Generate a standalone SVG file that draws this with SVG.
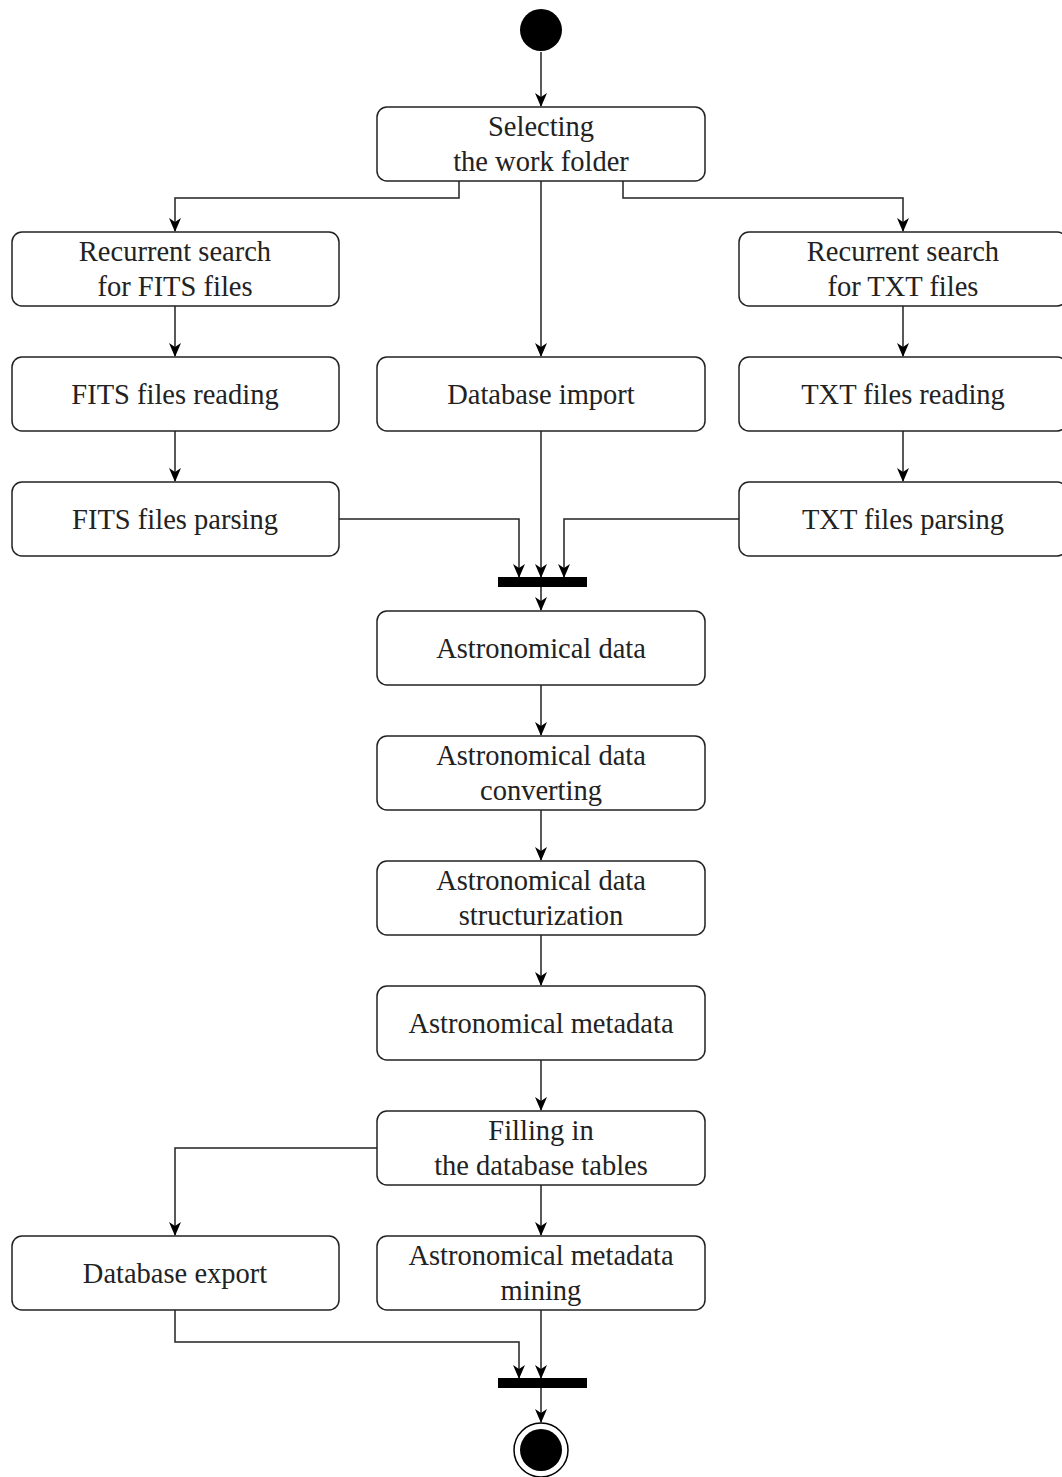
<svg xmlns="http://www.w3.org/2000/svg" width="1062" height="1477" viewBox="0 0 1062 1477">
<style>
.box{fill:#fff;stroke:#222;stroke-width:1.5}
text{font-family:"Liberation Serif","DejaVu Serif",serif;font-size:28.5px;fill:#222;text-anchor:middle}
.edge{fill:none;stroke:#222;stroke-width:1.5;marker-end:url(#arrv)}
.bar{fill:#000}
</style>
<defs>
<marker id="arrv" viewBox="0 0 14 12" refX="13" refY="6" markerWidth="14" markerHeight="12" markerUnits="userSpaceOnUse" orient="auto">
<path d="M0,0 L14,6 L0,12 L4,6 Z" fill="#000"/>
</marker>
</defs>
<rect width="1062" height="1477" fill="#fff"/>
<g id="connectors">
<path class="edge" d="M541,52 V106"/>
<path class="edge" d="M459,181 V198 H175 V231"/>
<path class="edge" d="M623,181 V198 H903 V231"/>
<path class="edge" d="M541,181 V356"/>
<path class="edge" d="M175,306 V356"/>
<path class="edge" d="M903,306 V356"/>
<path class="edge" d="M175,431 V481"/>
<path class="edge" d="M903,431 V481"/>
<path class="edge" d="M339,519 H519 V577"/>
<path class="edge" d="M541,431 V577"/>
<path class="edge" d="M739,519 H564 V577"/>
<path class="edge" d="M541,587 V610"/>
<path class="edge" d="M541,685 V735"/>
<path class="edge" d="M541,810 V860"/>
<path class="edge" d="M541,935 V985"/>
<path class="edge" d="M541,1060 V1110"/>
<path class="edge" d="M377,1148 H175 V1235"/>
<path class="edge" d="M541,1185 V1235"/>
<path class="edge" d="M175,1310 V1342 H519 V1378"/>
<path class="edge" d="M541,1310 V1378"/>
<path class="edge" d="M541,1388 V1422"/>
</g>
<g id="start"><circle cx="541" cy="30" r="21" fill="#000"/></g>
<g id="select"><rect class="box" x="377" y="107" width="328" height="74" rx="10"/><text x="541" y="136">Selecting</text><text x="541" y="171">the work folder</text></g>
<g id="search-fits"><rect class="box" x="12" y="232" width="327" height="74" rx="10"/><text x="175" y="261">Recurrent search</text><text x="175" y="296">for FITS files</text></g>
<g id="search-txt"><rect class="box" x="739" y="232" width="328" height="74" rx="10"/><text x="903" y="261">Recurrent search</text><text x="903" y="296">for TXT files</text></g>
<g id="fits-read"><rect class="box" x="12" y="357" width="327" height="74" rx="10"/><text x="175" y="404">FITS files reading</text></g>
<g id="db-import"><rect class="box" x="377" y="357" width="328" height="74" rx="10"/><text x="541" y="404">Database import</text></g>
<g id="txt-read"><rect class="box" x="739" y="357" width="328" height="74" rx="10"/><text x="903" y="404">TXT files reading</text></g>
<g id="fits-parse"><rect class="box" x="12" y="482" width="327" height="74" rx="10"/><text x="175" y="529">FITS files parsing</text></g>
<g id="txt-parse"><rect class="box" x="739" y="482" width="328" height="74" rx="10"/><text x="903" y="529">TXT files parsing</text></g>
<g id="join1"><rect class="bar" x="498" y="577" width="89" height="10"/></g>
<g id="astro-data"><rect class="box" x="377" y="611" width="328" height="74" rx="10"/><text x="541" y="658">Astronomical data</text></g>
<g id="converting"><rect class="box" x="377" y="736" width="328" height="74" rx="10"/><text x="541" y="765">Astronomical data</text><text x="541" y="800">converting</text></g>
<g id="structurization"><rect class="box" x="377" y="861" width="328" height="74" rx="10"/><text x="541" y="890">Astronomical data</text><text x="541" y="925">structurization</text></g>
<g id="metadata"><rect class="box" x="377" y="986" width="328" height="74" rx="10"/><text x="541" y="1033">Astronomical metadata</text></g>
<g id="filling"><rect class="box" x="377" y="1111" width="328" height="74" rx="10"/><text x="541" y="1140">Filling in</text><text x="541" y="1175">the database tables</text></g>
<g id="db-export"><rect class="box" x="12" y="1236" width="327" height="74" rx="10"/><text x="175" y="1283">Database export</text></g>
<g id="mining"><rect class="box" x="377" y="1236" width="328" height="74" rx="10"/><text x="541" y="1265">Astronomical metadata</text><text x="541" y="1300">mining</text></g>
<g id="join2"><rect class="bar" x="498" y="1378" width="89" height="10"/></g>
<g id="end"><circle cx="541" cy="1450" r="27" fill="#fff" stroke="#000" stroke-width="1.5"/><circle cx="541" cy="1450" r="21" fill="#000"/></g>
</svg>
